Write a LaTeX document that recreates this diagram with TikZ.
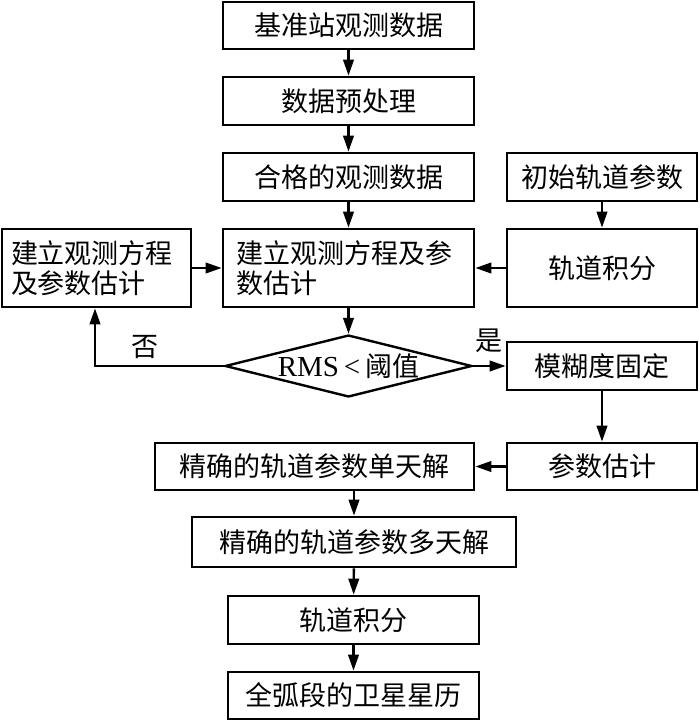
\documentclass[tikz,border=0pt]{standalone}
\usepackage{fontspec}
\setmainfont{Noto Sans CJK SC}
\newfontfamily\latinfont{Liberation Serif}
\usetikzlibrary{shapes.geometric,arrows.meta,calc}
\begin{document}
\begin{tikzpicture}[x=1pt,y=-1pt,
  every node/.style={font=\fontsize{27}{30}\selectfont},
  box/.style={draw,line width=2.7pt,rectangle,inner sep=0pt,align=center},
  dia/.style={draw,line width=2.4pt,diamond,aspect=4,inner sep=0pt,minimum width=247pt,minimum height=62pt},
  arr/.style={line width=2.4pt,-{Triangle[length=16pt,width=10.5pt]}},
  lbl/.style={inner sep=0pt}
]
\useasboundingbox (0,0) rectangle (700,721);
\node[box,minimum width=251pt,minimum height=47pt] (b1) at (348.5,25.5) {基准站观测数据};
\node[box,minimum width=251pt,minimum height=48pt] (b2) at (348.5,101) {数据预处理};
\node[box,minimum width=251pt,minimum height=48pt] (b3) at (348.5,177) {合格的观测数据};
\node[box,minimum width=190pt,minimum height=48pt] (b4) at (602,177) {初始轨道参数};
\node[box,minimum width=251pt,minimum height=78pt,align=left,text width=224pt,inner xsep=13.5pt] (b5) at (348.5,268) {建立观测方程及参\\数估计};
\node[box,minimum width=190pt,minimum height=78pt] (b6) at (602,268) {轨道积分};
\node[box,minimum width=189pt,minimum height=78pt,align=left,text width=171pt,inner xsep=9pt] (b7) at (96.5,268) {建立观测方程\\及参数估计};
\node[dia] (d) at (348.5,366) {{\latinfont\fontsize{29}{30}\selectfont RMS\,<\,}阈值};
\node[box,minimum width=190pt,minimum height=48pt] (b8) at (602,366) {模糊度固定};
\node[box,minimum width=190pt,minimum height=47pt] (b9) at (602,466.5) {参数估计};
\node[box,minimum width=319pt,minimum height=47pt] (b10) at (314.5,466.5) {精确的轨道参数单天解};
\node[box,minimum width=324pt,minimum height=50pt] (b11) at (354,542) {精确的轨道参数多天解};
\node[box,minimum width=251pt,minimum height=48pt] (b12) at (353.5,620) {轨道积分};
\node[box,minimum width=251pt,minimum height=47pt] (b13) at (353.5,695.5) {全弧段的卫星星历};
\node[lbl] (no) at (145,347) {否};
\node[lbl] (yes) at (489,341) {是};
\coordinate (lc) at (95,366);
\draw[arr] (b1) -- (b2);
\draw[arr] (b2) -- (b3);
\draw[arr] (b3) -- (b5);
\draw[arr] (b4) -- (b6);
\draw[arr] (b6) -- (b5);
\draw[arr] (b7) -- (b5);
\draw[arr] (b5) -- (d);
\draw[arr] (d.east) -- (b8.west);
\draw[arr] (d.west) -- (lc) -- (lc |- b7.south);
\draw[arr] (b8) -- (b9);
\draw[arr] (b9) -- (b10);
\draw[arr] (b11.north |- b10.south) -- (b11.north);
\draw[arr] (b11) -- (b12);
\draw[arr] (b12) -- (b13);
\end{tikzpicture}
\end{document}
